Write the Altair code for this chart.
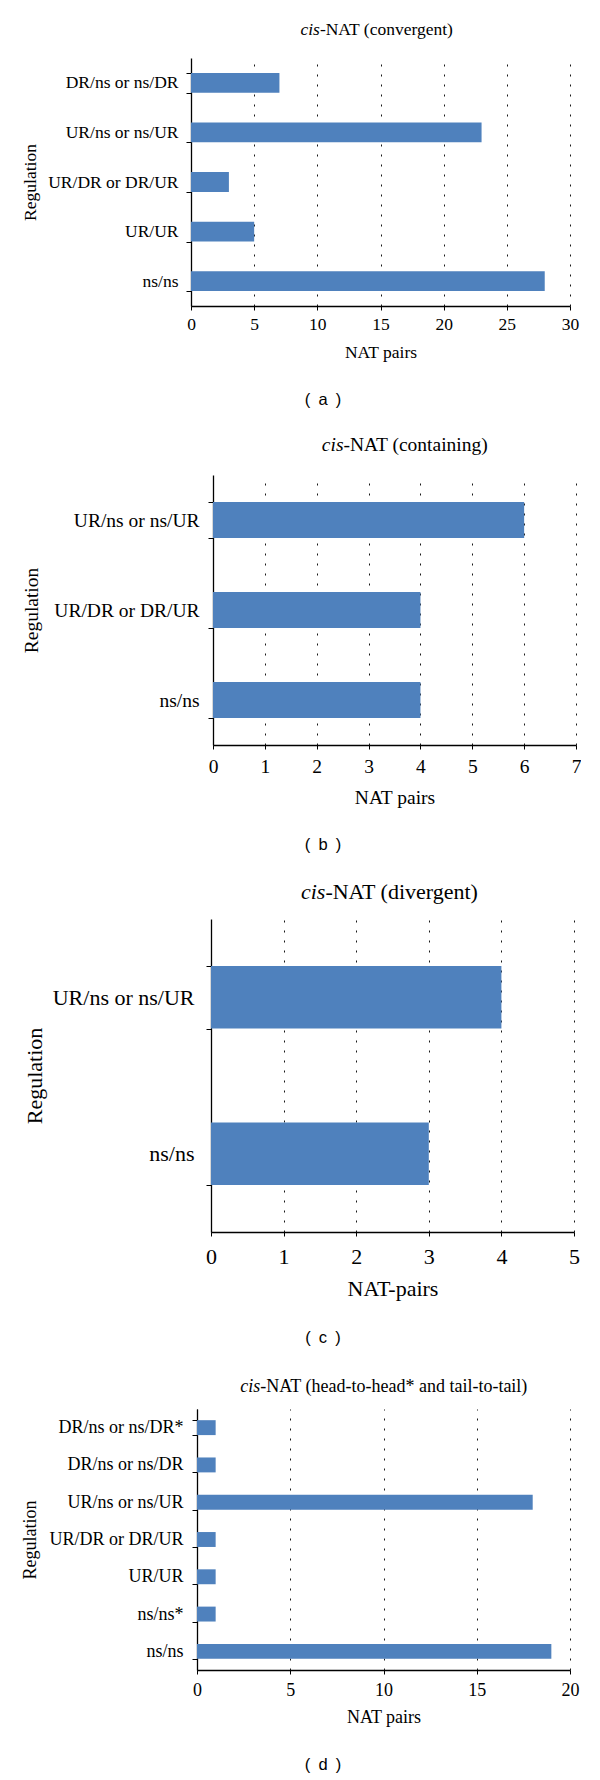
import altair as alt
import pandas as pd

# ---------------- data ----------------
a_cats = ["DR/ns or ns/DR", "UR/ns or ns/UR", "UR/DR or DR/UR", "UR/UR", "ns/ns"]
a_vals = [7, 23, 3, 5, 28]

b_cats = ["UR/ns or ns/UR", "UR/DR or DR/UR", "ns/ns"]
b_vals = [6, 4, 4]

c_cats = ["UR/ns or ns/UR", "ns/ns"]
c_vals = [4, 3]

d_cats = ["DR/ns or ns/DR*", "DR/ns or ns/DR", "UR/ns or ns/UR",
          "UR/DR or DR/UR", "UR/UR", "ns/ns*", "ns/ns"]
d_vals = [1, 1, 18, 1, 1, 1, 19]

title_italic = ["cis", "cis", "cis", "cis"]
title_rest = ["-NAT (convergent)", "-NAT (containing)", "-NAT (divergent)",
              "-NAT (head-to-head* and tail-to-tail)"]
x_titles = ["NAT pairs", "NAT pairs", "NAT-pairs", "NAT pairs"]
y_title = "Regulation"
x_ticks = [[0, 5, 10, 15, 20, 25, 30], [0, 1, 2, 3, 4, 5, 6, 7],
           [0, 1, 2, 3, 4, 5], [0, 5, 10, 15, 20]]
x_max = [30, 7, 5, 20]
captions = ["(\u2002a\u2002)", "(\u2002b\u2002)", "(\u2002c\u2002)", "(\u2002d\u2002)"]

# ---------------- layout (styles) ----------------
layout = [
    dict(L=191, W=379, H=248, f=17.5, tsplit=128.9, ty=-28, cx=132, cy=342,
         cell=(-50, 366), regx=-161, xlabpad=14, xtitle=46, ylabpad=8),
    dict(L=213, W=363, H=270, f=19.5, tsplit=130.5, ty=-30, cx=110, cy=370,
         cell=(-51, 395), regx=-182, xlabpad=17, xtitle=52, ylabpad=9),
    dict(L=211, W=363, H=313, f=22, tsplit=114.4, ty=-27, cx=112, cy=419,
         cell=(-49, 445), regx=-177, xlabpad=20, xtitle=56, ylabpad=12),
    dict(L=197, W=373, H=261, f=18, tsplit=63.3, ty=-22, cx=126, cy=356,
         cell=(-45, 371), regx=-167, xlabpad=16, xtitle=47, ylabpad=9),
]

SERIF = "Liberation Serif"
SANS = "Liberation Sans"
BAR = "#4F81BD"

all_cats = [a_cats, b_cats, c_cats, d_cats]
all_vals = [a_vals, b_vals, c_vals, d_vals]


def panel(i):
    lo = layout[i]
    cats, vals = all_cats[i], all_vals[i]
    df = pd.DataFrame({"cat": cats, "val": vals})
    f = lo["f"]
    bars = alt.Chart(df).mark_bar(color=BAR).encode(
        x=alt.X("val:Q",
                scale=alt.Scale(domain=[0, x_max[i]], nice=False, zero=True),
                axis=alt.Axis(values=x_ticks[i], title=x_titles[i],
                              grid=True, gridDash=[2, 8], gridColor="black",
                              gridWidth=1, gridOpacity=0.9,
                              domainColor="black", domainWidth=1.3,
                              tickColor="black", tickSize=4, tickWidth=1,
                              labelFont=SERIF, labelFontSize=f, labelColor="black",
                              labelBaseline="middle", labelPadding=lo["xlabpad"],
                              labelFlush=False, labelOverlap=False,
                              titleFont=SERIF, titleFontSize=f, titleFontWeight="normal",
                              titleColor="black", titleBaseline="middle",
                              titleY=lo["xtitle"])),
        y=alt.Y("cat:N", sort=cats,
                scale=alt.Scale(paddingInner=0.6, paddingOuter=0.3),
                axis=alt.Axis(title=y_title, grid=False, tickBand="extent",
                              domainColor="black", domainWidth=1.3,
                              tickColor="black", tickSize=5, tickWidth=1,
                              labelFont=SERIF, labelFontSize=f, labelColor="black",
                              labelPadding=lo["ylabpad"], labelLimit=400,
                              titleFont=SERIF, titleFontSize=f, titleFontWeight="normal",
                              titleColor="black", titleBaseline="middle",
                              titleAngle=270, titleX=lo["regx"], titleY=lo["H"] / 2)),
    )
    t_it = alt.Chart(pd.DataFrame({"t": [title_italic[i]]})).mark_text(
        font=SERIF, fontSize=f, fontStyle="italic", align="right",
        baseline="middle", color="black"
    ).encode(text="t:N", x=alt.value(lo["tsplit"]), y=alt.value(lo["ty"]))
    t_rest = alt.Chart(pd.DataFrame({"t": [title_rest[i]]})).mark_text(
        font=SERIF, fontSize=f, align="left", baseline="middle", color="black"
    ).encode(text="t:N", x=alt.value(lo["tsplit"]), y=alt.value(lo["ty"]))
    cap = alt.Chart(pd.DataFrame({"t": [captions[i]]})).mark_text(
        font=SANS, fontSize=16.5, align="center", baseline="middle", color="black"
    ).encode(text="t:N", x=alt.value(lo["cx"]), y=alt.value(lo["cy"]))
    spacer = alt.Chart(pd.DataFrame({"k": [0]})).mark_rule(
        opacity=0, strokeWidth=0.01
    ).encode(x=alt.value(9 - lo["L"]), y=alt.value(lo["cell"][0]),
             y2=alt.value(lo["cell"][1]))
    return alt.layer(bars, t_it, t_rest, cap, spacer).properties(
        width=lo["W"], height=lo["H"])


def blank():
    return alt.Chart(pd.DataFrame({"k": [0]})).mark_point(
        opacity=0, size=0
    ).encode(x=alt.value(0), y=alt.value(0)).properties(width=1, height=1)


rows = [alt.hconcat(blank(), panel(i), spacing=0) for i in range(4)]
chart = alt.vconcat(*rows, spacing=0).properties(padding=0).configure_view(stroke=None)

chart.save("out.html", embed_options={"renderer": "svg", "actions": False})
